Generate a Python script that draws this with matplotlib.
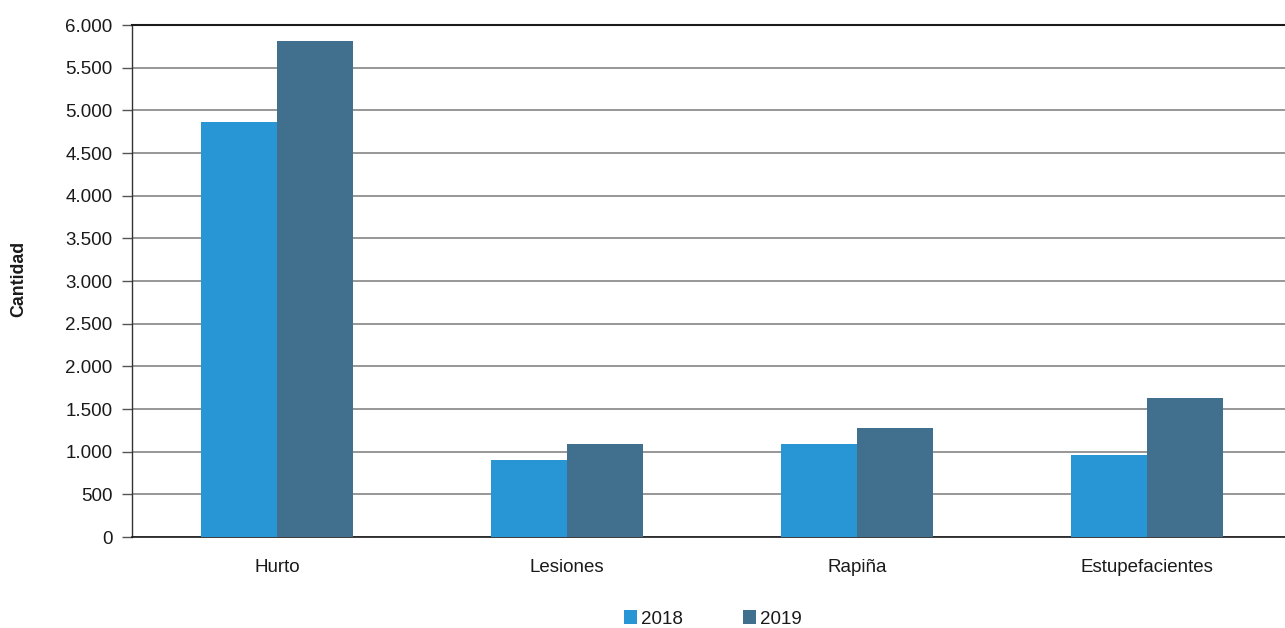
import matplotlib
matplotlib.use("Agg")
import matplotlib.pyplot as plt
import numpy as np
from matplotlib.ticker import FuncFormatter

categories = ["Hurto", "Lesiones", "Rapiña", "Estupefacientes"]
series_names = ["2018", "2019"]
values_2018 = [4860, 900, 1090, 960]
values_2019 = [5810, 1090, 1275, 1630]
colors = ["#2896D4", "#41708F"]
yticks = list(range(0, 6001, 500))

plt.rcParams['font.family'] = ['Liberation Sans', 'DejaVu Sans']

fig = plt.figure(figsize=(12.85, 6.28), dpi=100)
ax = fig.add_axes([132/1285, 1-537/628, 1160/1285, 512/628])

x = np.arange(len(categories))
w = 0.262
ax.bar(x - w/2, values_2018, width=w, color=colors[0], label=series_names[0], zorder=3)
ax.bar(x + w/2, values_2019, width=w, color=colors[1], label=series_names[1], zorder=3)

ax.set_xlim(-0.5, len(categories) - 0.5)
ax.set_ylim(0, 6000)
ax.set_yticks(yticks)
ax.yaxis.set_major_formatter(FuncFormatter(lambda v, p: f"{int(v):,}".replace(",", ".")))
ax.set_xticks(x)
ax.set_xticklabels(categories)

ax.grid(axis='y', color='#7a7a7a', linewidth=1.1, zorder=0)
ax.set_axisbelow(True)
ax.spines['right'].set_visible(False)
ax.spines['top'].set_color('#1a1a1a')
ax.spines['top'].set_linewidth(1.5)
ax.spines['left'].set_color('#333333')
ax.spines['left'].set_linewidth(1.0)
ax.spines['bottom'].set_color('#1a1a1a')
ax.spines['bottom'].set_linewidth(1.2)

ax.tick_params(axis='y', length=7, width=1, color='#555555', pad=7, labelsize=13.5, labelcolor='#1a1a1a')
ax.tick_params(axis='x', length=0, pad=16, labelsize=13.5, labelcolor='#1a1a1a')

fig.text(19/1285, 1-279/628, "Cantidad", rotation=90, ha='center', va='center',
         fontsize=12.8, fontweight='bold', color='#1a1a1a')

leg = fig.legend(loc='center', bbox_to_anchor=(713/1285, 1-619/628), ncol=2, frameon=False,
                 fontsize=13.5, handlelength=0.7, handleheight=0.7, handletextpad=0.22,
                 columnspacing=3.2)
for t in leg.get_texts():
    t.set_color('#1a1a1a')

fig.savefig("out.png", dpi=100)
